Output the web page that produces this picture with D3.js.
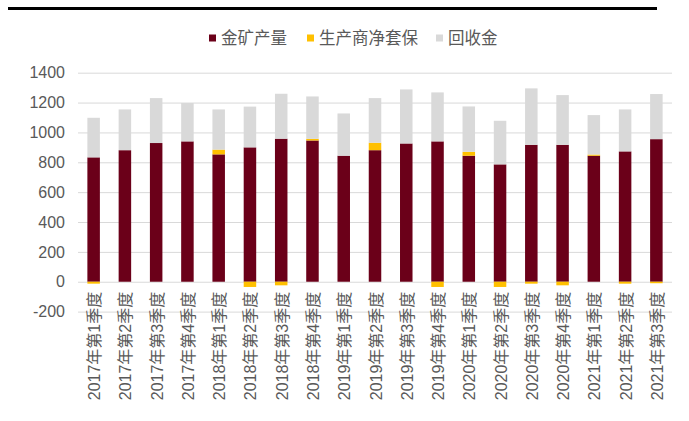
<!DOCTYPE html>
<html>
<head>
<meta charset="utf-8">
<script src="https://cdn.jsdelivr.net/npm/d3@7/dist/d3.min.js"></script>
<style>
  html, body { margin: 0; padding: 0; background: #fff; }
  svg text { font-family: "Liberation Sans", Arial, "Noto Sans CJK SC", sans-serif; fill: #595959; }
</style>
</head>
<body>
<svg id="chart" width="689" height="421"></svg>
<script>
// Quarterly gold supply (tonnes)
const quarters = [
  "2017年第1季度", "2017年第2季度", "2017年第3季度", "2017年第4季度",
  "2018年第1季度", "2018年第2季度", "2018年第3季度", "2018年第4季度",
  "2019年第1季度", "2019年第2季度", "2019年第3季度", "2019年第4季度",
  "2020年第1季度", "2020年第2季度", "2020年第3季度", "2020年第4季度",
  "2021年第1季度", "2021年第2季度", "2021年第3季度"
];
const mineProduction = [833, 881, 929, 940, 853, 900, 958, 946, 844, 881, 926, 940, 844, 786, 917, 917, 844, 873, 955];
const netHedging     = [-13, 0, 0, 0, 32, -35, -24, 11, 0, 50, 0, -35, 26, -35, -13, -24, 8, -13, -10];
const recycledGold   = [265, 273, 301, 257, 269, 273, 301, 284, 283, 299, 362, 328, 304, 292, 378, 333, 264, 281, 302];

const seriesNames = ["金矿产量", "生产商净套保", "回收金"];
const seriesColors = ["#6B0019", "#FFC000", "#D9D9D9"];
const yTicks = [-200, 0, 200, 400, 600, 800, 1000, 1200, 1400];

const rows = quarters.map((q, i) => ({
  q,
  mine: mineProduction[i],
  hedge: netHedging[i],
  recycle: recycledGold[i]
}));
const keys = ["mine", "hedge", "recycle"];

const svg = d3.select("#chart");

// header rule
svg.append("rect").attr("x", 8).attr("y", 7).attr("width", 649).attr("height", 3).attr("fill", "#000");

const plot = { left: 78, right: 672, top: 72.7, bottom: 311.6 };

const x = d3.scaleBand().domain(quarters).range([plot.left, plot.right]).paddingInner(0.6).paddingOuter(0.3);
const y = d3.scaleLinear().domain([-200, 1400]).range([plot.bottom, plot.top]);

// gridlines
svg.append("g")
  .attr("transform", `translate(${plot.left},0)`)
  .call(d3.axisLeft(y).tickValues(yTicks).tickSize(-(plot.right - plot.left)).tickFormat(""))
  .call(g => g.select(".domain").remove())
  .call(g => g.selectAll("line").attr("stroke", "#D9D9D9").attr("stroke-width", 1));

// y tick labels (plain integers, ASCII hyphen for negatives)
svg.append("g")
  .attr("transform", `translate(${plot.left - 13},0)`)
  .call(d3.axisLeft(y).tickValues(yTicks).tickSize(0).tickPadding(0).tickFormat(d => String(d)))
  .call(g => g.select(".domain").remove())
  .call(g => g.selectAll("text").attr("font-size", 16).style("fill", "#595959")
    .attr("font-family", '"Liberation Sans", Arial, sans-serif'));

// stacked bars (negatives grow below zero)
const stacked = d3.stack().keys(keys).offset(d3.stackOffsetDiverging)(rows);
const color = d3.scaleOrdinal().domain(keys).range(seriesColors);

svg.append("g").selectAll("g")
  .data(stacked)
  .join("g")
  .attr("fill", d => color(d.key))
  .selectAll("rect")
  .data(d => d)
  .join("rect")
  .attr("x", d => x(d.data.q))
  .attr("width", x.bandwidth())
  .attr("y", d => y(Math.max(d[0], d[1])))
  .attr("height", d => Math.abs(y(d[0]) - y(d[1])));

// category labels, rotated, sitting just under the zero line
const xAxis = svg.append("g")
  .attr("transform", `translate(0,${y(0)})`)
  .call(d3.axisBottom(x).tickSize(0).tickPadding(0));
xAxis.select(".domain").remove();
xAxis.selectAll("text")
  .attr("font-size", 16)
  .attr("text-anchor", "end")
  .attr("dominant-baseline", "central")
  .attr("dy", null)
  .attr("y", 0)
  .attr("transform", "translate(1,10) rotate(-90)")
  .style("fill", "#595959");

// legend
const legendX = [209, 307, 436];
const legend = svg.append("g").selectAll("g")
  .data(seriesNames)
  .join("g")
  .attr("transform", (d, i) => `translate(${legendX[i]},38)`);
legend.append("rect").attr("x", 0).attr("y", -3.5).attr("width", 7).attr("height", 7)
  .attr("fill", (d, i) => seriesColors[i]);
legend.append("text").attr("x", 12).attr("y", 0).attr("dominant-baseline", "central")
  .attr("font-size", 16.5).text(d => d);
</script>
</body>
</html>
